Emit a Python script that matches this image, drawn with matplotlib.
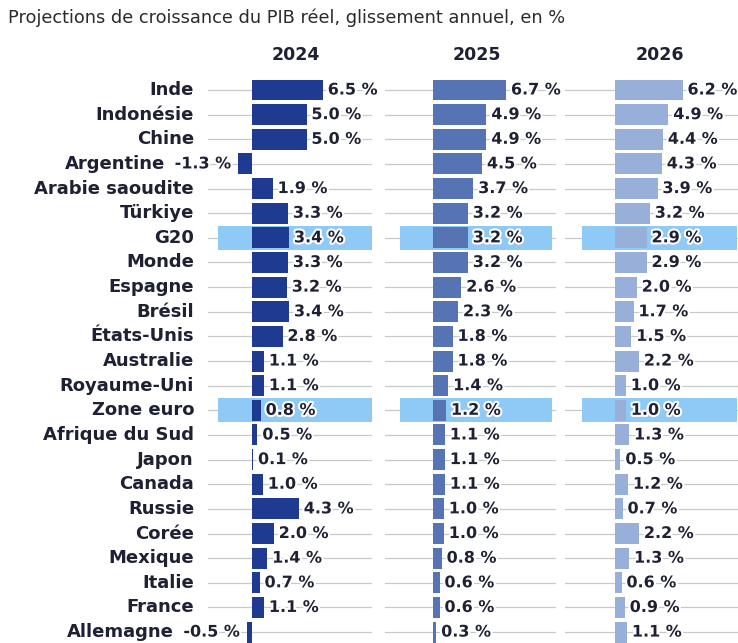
import matplotlib
matplotlib.use("Agg")
import matplotlib.pyplot as plt
import matplotlib.patheffects as pe

countries = ["Inde", "Indonésie", "Chine", "Argentine", "Arabie saoudite", "Türkiye", "G20",
             "Monde", "Espagne", "Brésil", "États-Unis", "Australie", "Royaume-Uni", "Zone euro",
             "Afrique du Sud", "Japon", "Canada", "Russie", "Corée", "Mexique", "Italie",
             "France", "Allemagne"]
years = ["2024", "2025", "2026"]
g2024 = [6.5, 5.0, 5.0, -1.3, 1.9, 3.3, 3.4, 3.3, 3.2, 3.4, 2.8, 1.1, 1.1, 0.8, 0.5, 0.1, 1.0, 4.3, 2.0, 1.4, 0.7, 1.1, -0.5]
g2025 = [6.7, 4.9, 4.9, 4.5, 3.7, 3.2, 3.2, 3.2, 2.6, 2.3, 1.8, 1.8, 1.4, 1.2, 1.1, 1.1, 1.1, 1.0, 1.0, 0.8, 0.6, 0.6, 0.3]
g2026 = [6.2, 4.9, 4.4, 4.3, 3.9, 3.2, 2.9, 2.9, 2.0, 1.7, 1.5, 2.2, 1.0, 1.0, 1.3, 0.5, 1.2, 0.7, 2.2, 1.3, 0.6, 0.9, 1.1]
highlighted = ["G20", "Zone euro"]

series = [g2024, g2025, g2026]
colors = ["#1f3b91", "#5673b3", "#97afd9"]
hl_color = "#8fcaf6"
grid_color = "#c8c8c8"
text_color = "#1e2133"

W, H = 738, 643
fig = plt.figure(figsize=(W / 100, H / 100), dpi=100)
fig.patch.set_facecolor("white")

FONT = "DejaVu Sans"
s = 10.9          # px per unit
row0, step = 90.0, 24.64
top_px, bot_px = 70.0, 643.0

# pixel geometry per panel: zero, grid_left, grid_right, hl_left, hl_right, header_x
panels = [
    (252, 208, 372, 218, 372, 296),
    (433, 385, 556, 400, 552, 477),
    (615, 565, 738, 582, 737, 660),
]

n = len(countries)
neg_labels = {}
for k, (vals, col, geo) in enumerate(zip(series, colors, panels)):
    zero, gl, gr, hl, hr, hx = geo
    ax = fig.add_axes([gl / W, 1 - bot_px / H, (gr - gl) / W, (bot_px - top_px) / H])
    ax.set_xlim((gl - zero) / s, (gr - zero) / s)
    ax.set_ylim((bot_px - row0) / step, (top_px - row0) / step)
    ax.axis("off")
    ys = list(range(n))
    for y in ys:
        ax.axhline(y, color=grid_color, lw=0.9, zorder=0)
    for c in highlighted:
        y = countries.index(c)
        ax.axhspan(y - 0.49, y + 0.49, xmin=(hl - gl) / (gr - gl), xmax=(hr - gl) / (gr - gl),
                   color=hl_color, zorder=1, lw=0)
    ax.barh(ys, vals, height=0.85, color=col, zorder=2)
    for y, v in zip(ys, vals):
        lab = f"{v:.1f} %"
        if v >= 0:
            ax.text(v + 0.45, y, lab, ha="left", va="center", fontsize=11.5, fontweight="bold",
                    family=FONT, color=text_color, zorder=3,
                    path_effects=[pe.withStroke(linewidth=3, foreground="white")])
        else:
            t = ax.text(v - 0.6, y, lab, ha="right", va="center", fontsize=11.5, fontweight="bold",
                        family=FONT, color=text_color, zorder=3, clip_on=False,
                        path_effects=[pe.withStroke(linewidth=3, foreground="white")])
            if k == 0:
                neg_labels[y] = t
    fig.text(hx / W, 1 - 55 / H, years[k], ha="center", va="center", fontsize=12.5,
             fontweight="bold", family=FONT, color=text_color)

fig.canvas.draw()
renderer = fig.canvas.get_renderer()
for i, c in enumerate(countries):
    xr = 194.0
    if i in neg_labels:
        bb = neg_labels[i].get_window_extent(renderer)
        xr = min(xr, bb.x0 - 10)
    fig.text(xr / W, 1 - (row0 + i * step) / H, c, ha="right", va="center", fontsize=13,
             fontweight="bold", family=FONT, color=text_color)

fig.text(8 / W, 1 - 18 / H, "Projections de croissance du PIB réel, glissement annuel, en %",
         ha="left", va="center", fontsize=12.8, family=FONT, color="#2b2b2b")

fig.savefig("out.png", dpi=100, facecolor="white")
